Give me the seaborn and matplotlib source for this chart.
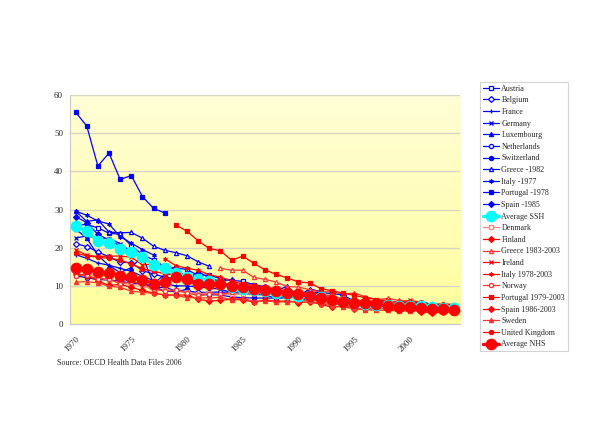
import numpy as np
import pandas as pd
import matplotlib
matplotlib.use("Agg")
import matplotlib.pyplot as plt
import seaborn as sns


# ── data: infant mortality per 1000 live births ─────────────────────────────

years = list(range(1970, 2005))

# SSH countries (start year 1970)
austria = [25.9, 26.1, 25.2, 23.8, 23.5, 20.5, 18.2, 16.8, 15.0, 14.7, 14.3, 12.7,
           12.8, 11.9, 11.4, 11.2, 10.3, 9.8, 8.1, 8.3, 7.8, 7.5, 7.5, 6.5, 6.3,
           5.4, 5.1, 4.7, 4.9, 4.4, 4.8, 4.8, 4.1, 4.5, 4.5]
belgium = [21.1, 20.3, 18.9, 17.6, 16.2, 16.1, 14.0, 13.1, 12.3, 11.9, 12.1, 11.7,
           11.7, 11.0, 10.1, 9.8, 9.7, 9.6, 9.0, 8.6, 8.0, 8.4, 8.2, 8.0, 7.6,
           6.0, 5.6, 6.1, 5.5, 4.9, 4.8, 4.5, 4.4, 4.3, 4.3]
france = [18.2, 17.2, 16.0, 15.4, 14.6, 13.8, 12.5, 11.4, 10.6, 10.0, 10.0, 9.7,
          9.5, 9.1, 8.3, 8.3, 8.0, 7.8, 7.8, 7.5, 7.3, 7.3, 6.8, 6.5, 5.9,
          4.9, 4.8, 4.7, 4.6, 4.3, 4.4, 4.5, 4.1, 3.9, 3.9]
germany = [22.5, 23.1, 22.4, 22.4, 21.1, 18.9, 17.4, 15.4, 14.7, 13.5, 12.4, 11.6,
           10.9, 10.2, 9.6, 9.1, 8.6, 8.3, 7.6, 7.5, 7.0, 6.9, 6.2, 5.8, 5.6,
           5.3, 5.0, 4.9, 4.7, 4.5, 4.4, 4.3, 4.2, 4.2, 4.1]
luxembourg = [24.9, 22.5, 18.0, 15.3, 13.5, 14.8, 17.8, 10.6, 13.0, 13.0, 11.5, 13.8,
              12.0, 11.2, 11.7, 9.0, 7.9, 9.4, 8.7, 9.9, 7.3, 9.2, 8.5, 6.0, 5.3,
              5.5, 4.9, 4.2, 5.0, 4.6, 5.1, 5.9, 5.1, 4.9, 3.9]
netherlands = [12.7, 12.1, 11.7, 11.5, 11.3, 10.6, 10.7, 9.5, 9.6, 8.7, 8.6, 8.3,
               8.3, 8.4, 8.3, 8.0, 7.8, 7.6, 6.8, 6.8, 7.1, 6.5, 6.3, 6.3, 5.6,
               5.5, 5.7, 5.0, 5.2, 5.2, 5.1, 5.4, 5.0, 4.8, 4.4]
switzerland = [15.1, 14.4, 13.2, 13.2, 12.5, 10.7, 10.7, 9.8, 8.6, 8.5, 9.1, 7.6,
               7.7, 7.6, 7.1, 6.9, 6.8, 6.8, 6.8, 7.3, 6.8, 6.2, 6.4, 5.6, 5.1,
               5.0, 4.7, 4.8, 4.8, 4.6, 4.9, 5.0, 5.0, 4.3, 4.2]
greece_ssh = [29.6, 26.9, 27.3, 24.1, 23.9, 24.0, 22.5, 20.4, 19.3, 18.7, 17.9, 16.3, 15.1]
italy_ssh = [29.6, 28.5, 27.0, 26.2, 22.9, 21.2, 19.5, 18.1]
portugal_ssh = [55.5, 51.9, 41.4, 44.8, 37.9, 38.9, 33.4, 30.3, 29.1]
spain_ssh = [28.1, 26.6, 23.5, 22.0, 20.5, 18.9, 17.1, 16.0, 15.3, 14.3, 12.3, 12.5,
             11.3, 10.9, 9.6, 8.9]
avg_ssh = [25.7, 24.3, 21.7, 21.3, 19.6, 18.9, 17.6, 15.4, 14.6, 13.4, 12.2, 11.8,
           11.2, 10.4, 9.8, 9.3, 8.8, 8.6, 8.0, 7.9, 7.3, 7.3, 7.0, 6.4, 5.9,
           5.4, 5.2, 5.0, 4.9, 4.6, 4.8, 4.8, 4.5, 4.3, 4.2]

# NHS countries
denmark = [14.2, 13.5, 12.2, 11.5, 10.7, 10.4, 10.2, 8.7, 8.9, 8.8, 8.4, 7.9,
           8.2, 7.7, 7.7, 7.9, 8.2, 8.3, 7.6, 8.0, 7.5, 7.3, 6.6, 5.4, 5.5,
           5.1, 5.6, 5.2, 4.7, 4.2, 5.3, 4.9, 4.4, 4.4, 4.4]
finland = [13.2, 12.7, 11.3, 10.1, 10.4, 9.6, 8.8, 8.1, 7.6, 7.6, 7.6, 6.5,
           6.0, 6.2, 6.5, 6.3, 5.8, 6.2, 6.0, 6.0, 5.6, 5.8, 5.2, 4.4, 4.7,
           3.9, 4.0, 3.9, 4.2, 3.6, 3.8, 3.2, 3.0, 3.1, 3.3]
greece_nhs = [14.6, 14.1, 14.1, 12.2, 11.7, 11.0, 9.8, 9.7, 9.0, 8.4, 8.5, 7.9,
              8.1, 7.2, 6.4, 6.7, 6.2, 5.9, 5.1, 5.1, 4.0]            # 1983-2003
ireland = [19.5, 18.0, 17.7, 17.8, 17.8, 17.5, 15.5, 15.7, 14.9, 12.9, 11.1, 10.3,
           10.5, 9.8, 10.1, 8.8, 8.9, 7.4, 8.9, 7.6, 8.2, 8.2, 6.6, 6.1, 5.7,
           6.4, 5.5, 6.2, 6.2, 5.5, 6.2, 5.7, 5.0, 5.1, 4.9]
italy_nhs = [17.1, 15.3, 14.6, 14.1, 12.9, 12.3, 11.3, 10.5, 10.1, 9.6, 9.2, 8.6,
             8.2, 8.1, 7.9, 7.3, 6.6, 6.2, 6.0, 5.5, 5.4, 5.1, 4.5, 4.6, 4.3, 4.3]  # 1978-2003
norway = [12.7, 12.8, 11.8, 11.9, 10.5, 11.1, 10.5, 9.2, 8.6, 8.8, 8.1, 7.5,
          7.9, 7.8, 8.3, 8.5, 7.9, 8.4, 8.3, 7.9, 6.9, 6.4, 5.9, 5.1, 5.2,
          4.0, 4.0, 4.1, 4.0, 3.9, 3.8, 3.9, 3.5, 3.4, 3.2]
portugal_nhs = [26.0, 24.3, 21.8, 19.8, 19.2, 16.7, 17.8, 15.9, 14.2, 13.0, 12.1, 11.0,
                10.8, 9.3, 8.7, 8.1, 7.5, 6.9, 6.4, 6.0, 5.6, 5.5, 5.0, 5.0, 4.1]  # 1979-2003
spain_nhs = [9.7, 9.0, 8.1, 7.8, 7.6, 7.2, 7.1, 6.7, 6.0, 5.5, 5.5, 5.0, 4.9, 4.4,
             4.4, 4.1, 4.1, 3.9]                                      # 1986-2003
sweden = [11.0, 11.1, 10.8, 9.9, 9.6, 8.6, 8.3, 8.0, 7.7, 7.5, 6.9, 6.9,
          6.8, 7.0, 6.4, 6.8, 5.9, 6.1, 5.8, 5.8, 6.0, 6.1, 5.3, 4.8, 4.4,
          4.1, 3.8, 3.6, 3.6, 3.4, 3.4, 3.7, 3.3, 3.1, 3.1]
uk = [18.5, 17.9, 17.5, 17.2, 16.8, 15.7, 14.5, 13.8, 13.2, 12.9, 12.1, 11.2,
      11.0, 10.2, 9.5, 9.4, 9.5, 9.2, 9.0, 8.4, 7.9, 7.4, 6.6, 6.3, 6.2,
      6.2, 6.1, 5.9, 5.7, 5.8, 5.6, 5.5, 5.2, 5.3, 5.1]
avg_nhs = [14.8, 14.3, 13.7, 13.3, 12.7, 12.2, 11.6, 10.6, 11.1, 12.4, 11.7, 10.6,
           10.4, 10.6, 9.9, 9.7, 9.3, 8.9, 8.6, 8.2, 7.8, 7.3, 6.9, 6.3, 5.8,
           5.6, 5.4, 5.2, 4.8, 4.5, 4.4, 4.3, 3.9, 3.9, 3.7]

# (label, values, first year, colour, marker, filled, big)
series = [
    ("Austria", austria, 1970, "#0000FF", "s", False, False),
    ("Belgium", belgium, 1970, "#0000FF", "D", False, False),
    ("France", france, 1970, "#0000FF", "+", True, False),
    ("Germany", germany, 1970, "#0000FF", "x", True, False),
    ("Luxembourg", luxembourg, 1970, "#0000FF", "^", True, False),
    ("Netherlands", netherlands, 1970, "#0000FF", "o", False, False),
    ("Switzerland", switzerland, 1970, "#0000FF", "o", True, False),
    ("Greece -1982", greece_ssh, 1970, "#0000FF", "^", False, False),
    ("Italy -1977", italy_ssh, 1970, "#0000FF", (6, 2, 0), True, False),
    ("Portugal -1978", portugal_ssh, 1970, "#0000FF", "s", True, False),
    ("Spain -1985", spain_ssh, 1970, "#0000FF", "D", True, False),
    ("Average SSH", avg_ssh, 1970, "#00FFFF", "o", True, True),
    ("Denmark", denmark, 1970, "#FF8080", "s", False, False),
    ("Finland", finland, 1970, "#FF0000", "D", True, False),
    ("Greece 1983-2003", greece_nhs, 1983, "#FF3030", "^", False, False),
    ("Ireland", ireland, 1970, "#FF0000", "x", True, False),
    ("Italy 1978-2003", italy_nhs, 1978, "#FF0000", (6, 2, 0), True, False),
    ("Norway", norway, 1970, "#FF3030", "o", False, False),
    ("Portugal 1979-2003", portugal_nhs, 1979, "#FF0000", "s", True, False),
    ("Spain 1986-2003", spain_nhs, 1986, "#FF0000", "D", True, False),
    ("Sweden", sweden, 1970, "#FF3030", "^", True, False),
    ("United Kingdom", uk, 1970, "#FF0000", "o", True, False),
    ("Average NHS", avg_nhs, 1970, "#FF0000", "o", True, True),
]

# ── plot ─────────────────────────────────────────────────────────────────────

sns.set_style("white")
plt.rcParams["font.family"] = ["Liberation Serif", "DejaVu Serif"]

fig = plt.figure(figsize=(6.0, 4.24), dpi=100)
ax = fig.add_axes([0.1167, 0.2358, 0.65, 0.540])

# yellow gradient plot area
grad = np.linspace(0, 1, 256).reshape(-1, 1)
cmap = matplotlib.colors.LinearSegmentedColormap.from_list(
    "bg", ["#FFFDD6", "#FFFF9C"])
ax.imshow(grad, extent=[0, 1, 0, 1], transform=ax.transAxes, cmap=cmap,
          aspect="auto", zorder=0)

for label, vals, start, color, marker, filled, big in series:
    df = pd.DataFrame({"x": np.arange(len(vals)) + (start - years[0]), "y": vals})
    kw = dict(color=color, marker=marker, markeredgecolor=color,
              markerfacecolor=color if filled else "white",
              linewidth=2.4 if big else 0.9,
              markersize=7.5 if big else 3.0,
              markeredgewidth=0.9)
    sns.lineplot(data=df, x="x", y="y", ax=ax, label=label, zorder=3 if big else 2,
                 **kw)

ax.set_xlim(-0.5, len(years) - 0.5)
ax.set_ylim(0, 60)
ax.set_yticks(range(0, 61, 10))
ax.set_yticklabels([str(v) for v in range(0, 61, 10)], fontsize=6.5)
ax.yaxis.grid(True, color="#D4D4C4", linewidth=0.9, zorder=1)
ax.set_axisbelow(True)

ax.set_xticks(range(0, len(years), 5))
ax.set_xticklabels([str(y) for y in years[::5]], fontsize=6.5, rotation=45,
                   ha="right", va="top", rotation_mode="anchor")
ax.set_xticks(np.arange(-0.5, len(years), 1), minor=True)
ax.tick_params(axis="x", which="major", length=0, pad=8)
ax.tick_params(axis="x", which="minor", length=3, color="#C8C8C8", direction="out")
ax.tick_params(axis="y", length=3, color="#C8C8C8", direction="out", pad=2)
ax.set_xlabel("")
ax.set_ylabel("")

for side in ["top", "right"]:
    ax.spines[side].set_visible(False)
for side in ["left", "bottom"]:
    ax.spines[side].set_color("#C8C8C8")
    ax.spines[side].set_linewidth(0.8)

handles, labels = ax.get_legend_handles_labels()
ax.legend_.remove()
leg = fig.legend(handles, labels, loc="upper left", bbox_to_anchor=(0.8, 0.807),
                 fontsize=5.8, frameon=True, fancybox=False, edgecolor="#C8C8C8",
                 labelspacing=0.45, handlelength=2.0, handletextpad=0.3,
                 borderpad=0.35, borderaxespad=0)
leg.get_frame().set_linewidth(0.8)

fig.text(0.095, 0.144, "Source: OECD Health Data Files 2006", fontsize=5.8,
         ha="left", va="center")

fig.savefig("out.png", dpi=100)
